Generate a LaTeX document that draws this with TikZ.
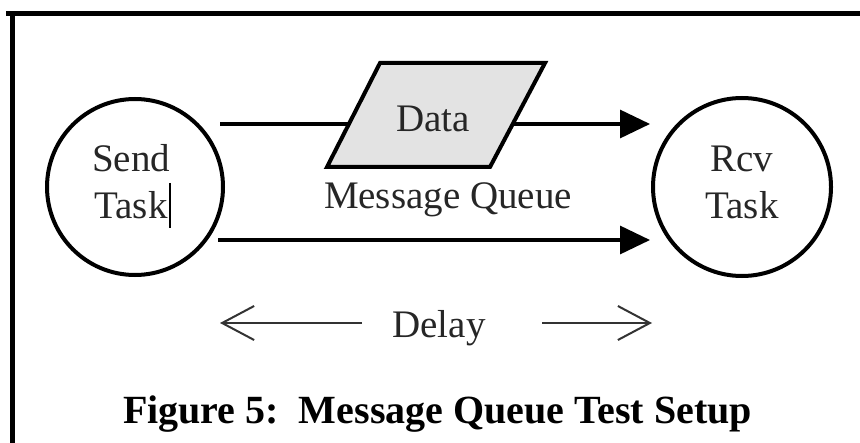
\documentclass[tikz,border=0pt]{standalone}
\usepackage{fontspec}
\setmainfont{Liberation Serif}
\usetikzlibrary{arrows.meta}
\begin{document}
\begin{tikzpicture}[x=0.5pt,y=-0.5pt,
  task/.style={circle,draw=black,line width=2pt,minimum size=#1,inner sep=0pt},
  lbl/.style={anchor=base,inner sep=0pt,text=black!85,font=\fontsize{19.5}{23}\selectfont},
  captxt/.style={anchor=base,inner sep=0pt,text=black,font=\fontsize{20}{24}\selectfont\bfseries},
  flow/.style={line width=1.6pt,-{Triangle[length=15pt,width=14pt]}},
  delayarrow/.style={line width=1pt,draw=black!80,-{Straight Barb[length=16pt,width=17pt]}},
  border/.style={line width=2.5pt,line cap=rect}]
\useasboundingbox (0,0) rectangle (860,443);
% frame (top and left only)
\draw[border] (8,13.5) -- (862,13.5);
\draw[border] (12.5,13.5) -- (12.5,445);
% tasks
\node[task=88pt] (send) at (135,187) {};
\node[task=89pt] (rcv) at (742,187) {};
\node[lbl] (sendA) at (131,172) {Send};
\node[lbl] (sendB) at (131,218) {Task};
\node[lbl] (rcvA) at (742,172) {Rcv};
\node[lbl] (rcvB) at (742,218) {Task};
% stray text cursor
\draw[line width=0.7pt] (170,183) -- (170,228);
% connectors
\coordinate (t1) at (220,124);
\coordinate (t2) at (650,124);
\coordinate (b1) at (218,240);
\coordinate (b2) at (650,240);
\draw[flow] (t1) -- (t2);
\draw[flow] (b1) -- (b2);
% message queue parallelogram
\draw[line width=2pt,fill=gray!22,line join=miter] (380,63) -- (545,63) -- (490,167) -- (327,167) -- cycle;
\node[lbl] (data) at (433,132) {Data};
\node[lbl] (mq) at (448,208) {Message Queue};
% delay
\node[lbl] (delay) at (439,337) {Delay};
\coordinate (d1) at (362,323);
\coordinate (d2) at (220,323);
\coordinate (d3) at (542,323);
\coordinate (d4) at (652,323);
\draw[delayarrow] (d1) -- (d2);
\draw[delayarrow] (d3) -- (d4);
% caption
\node[captxt] (caption) at (437.5,423) {Figure 5:\ \ Message Queue Test Setup};
\end{tikzpicture}
\end{document}
